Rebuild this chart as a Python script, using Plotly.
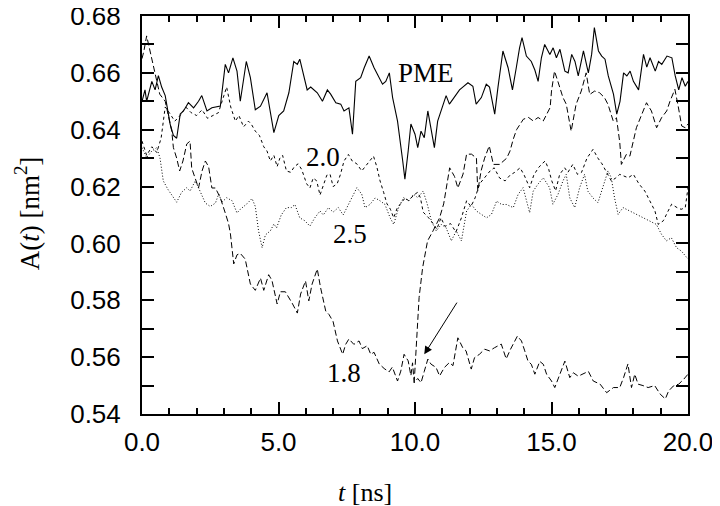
import plotly.graph_objects as go

# time axis [ns] and area per lipid [nm^2]
t_pme = [0.0, 0.11, 0.17, 0.36, 0.48, 0.6, 0.72, 0.85, 1.03, 1.15, 1.27, 1.4, 1.52, 1.7, 1.89, 2.07,
         2.19, 2.38, 2.56, 2.87, 3.05, 3.17, 3.33, 3.48, 3.6, 3.82, 3.97, 4.15, 4.34, 4.58, 4.83, 5.01,
         5.19, 5.38, 5.56, 5.69, 5.78, 5.93, 6.05, 6.18, 6.42, 6.61, 6.79, 6.91, 7.1, 7.28, 7.4, 7.58,
         7.71, 7.83, 8.01, 8.14, 8.32, 8.5, 8.63, 8.81, 8.93, 9.06, 9.18, 9.36, 9.55, 9.63, 9.75, 9.85,
         10.0, 10.1, 10.22, 10.34, 10.47, 10.59, 10.71, 10.83, 10.96, 11.14, 11.26, 11.44, 11.63, 11.75,
         11.94, 12.12, 12.24, 12.43, 12.61, 12.73, 12.92, 13.04, 13.22, 13.41, 13.57, 13.71, 13.83, 13.92,
         14.08, 14.26, 14.39, 14.51, 14.63, 14.75, 14.94, 15.06, 15.18, 15.31, 15.49, 15.61, 15.74, 15.86,
         15.98, 16.17, 16.35, 16.47, 16.57, 16.72, 16.84, 16.96, 17.08, 17.27, 17.39, 17.51, 17.64, 17.76,
         17.88, 18.0, 18.19, 18.37, 18.49, 18.61, 18.8, 18.92, 19.04, 19.23, 19.41, 19.53, 19.66, 19.78,
         19.9, 20.0]
a_pme = [0.650, 0.654, 0.650, 0.657, 0.654, 0.659, 0.655, 0.652, 0.642, 0.638, 0.637, 0.6455, 0.6466,
         0.6495, 0.6477, 0.650, 0.652, 0.6466, 0.6477, 0.6483, 0.663, 0.660, 0.6653, 0.6606, 0.650, 0.664,
         0.6583, 0.647, 0.6483, 0.653, 0.639, 0.645, 0.6466, 0.653, 0.664, 0.663, 0.6648, 0.6583, 0.654,
         0.655, 0.653, 0.650, 0.654, 0.6525, 0.6495, 0.649, 0.6466, 0.6477, 0.6384, 0.657, 0.6583, 0.6618,
         0.6659, 0.6618, 0.6595, 0.656, 0.657, 0.660, 0.6513, 0.643, 0.629, 0.6226, 0.6325, 0.642, 0.6384,
         0.6337, 0.6395, 0.6372, 0.6466, 0.6407, 0.6337, 0.643, 0.6466, 0.652, 0.649, 0.6513, 0.654, 0.655,
         0.6565, 0.6553, 0.649, 0.6513, 0.656, 0.655, 0.6455, 0.655, 0.6677, 0.6618, 0.654, 0.6618, 0.6688,
         0.6724, 0.6659, 0.664, 0.661, 0.657, 0.6653, 0.670, 0.6665, 0.6688, 0.6653, 0.6683, 0.6606, 0.660,
         0.6665, 0.664, 0.6589, 0.6677, 0.660, 0.6665, 0.6759, 0.6677, 0.6659, 0.6648, 0.6589, 0.6525,
         0.6455, 0.650, 0.660, 0.6589, 0.6606, 0.657, 0.654, 0.6665, 0.662, 0.6653, 0.6606, 0.664, 0.663,
         0.6659, 0.6653, 0.659, 0.654, 0.6583, 0.6553, 0.657]

t_20 = [0.0, 0.17, 0.36, 0.54, 0.7, 0.85, 1.0, 1.2, 1.4, 1.6, 1.8, 2.0, 2.2, 2.4, 2.6, 2.8, 3.0, 3.1, 3.25,
        3.42, 3.55, 3.72, 3.9, 4.0, 4.15, 4.3, 4.46, 4.58, 4.7, 4.83, 4.95, 5.05, 5.15, 5.29, 5.45, 5.58,
        5.72, 5.85, 6.03, 6.15, 6.27, 6.4, 6.52, 6.65, 6.77, 6.89, 7.0, 7.15, 7.27, 7.4, 7.56, 7.7, 7.87,
        8.05, 8.17, 8.35, 8.48, 8.6, 8.72, 8.85, 8.97, 9.1, 9.22, 9.35, 9.47, 9.64, 9.77, 9.95, 10.1, 10.2,
        10.3, 10.5, 10.66, 10.8, 10.95, 11.1, 11.3, 11.5, 11.7, 11.89, 12.05, 12.2, 12.37, 12.55, 12.75,
        12.9, 13.1, 13.3, 13.48, 13.65, 13.85, 14.0, 14.2, 14.35, 14.52, 14.65, 14.77, 14.9, 15.01, 15.15,
        15.3, 15.48, 15.6, 15.78, 15.95, 16.1, 16.3, 16.52, 16.7, 16.85, 17.0, 17.19, 17.35, 17.5, 17.81,
        18.0, 18.2, 18.42, 18.6, 18.79, 18.91, 19.1, 19.25, 19.4, 19.6, 19.75, 19.9, 20.0]
a_20 = [0.636, 0.631, 0.634, 0.632, 0.637, 0.648, 0.646, 0.643, 0.645, 0.648, 0.646, 0.645, 0.647, 0.644,
        0.645, 0.646, 0.652, 0.655, 0.648, 0.643, 0.645, 0.641, 0.643, 0.642, 0.6395, 0.638, 0.634, 0.6325,
        0.629, 0.631, 0.627, 0.630, 0.631, 0.6255, 0.625, 0.627, 0.628, 0.626, 0.621, 0.6195, 0.623, 0.622,
        0.617, 0.621, 0.624, 0.6243, 0.620, 0.621, 0.6243, 0.629, 0.6313, 0.629, 0.628, 0.6255, 0.627,
        0.629, 0.6307, 0.627, 0.622, 0.618, 0.614, 0.612, 0.609, 0.6125, 0.614, 0.616, 0.615, 0.617, 0.618,
        0.616, 0.611, 0.609, 0.607, 0.605, 0.609, 0.606, 0.607, 0.604, 0.609, 0.615, 0.613, 0.616, 0.621,
        0.623, 0.6255, 0.6266, 0.623, 0.622, 0.624, 0.625, 0.6266, 0.624, 0.6196, 0.624, 0.6266, 0.628,
        0.629, 0.626, 0.622, 0.6185, 0.6243, 0.6266, 0.625, 0.6278, 0.6243, 0.625, 0.630, 0.6331, 0.630,
        0.628, 0.6255, 0.622, 0.623, 0.6243, 0.6231, 0.6243, 0.621, 0.6184, 0.615, 0.6114, 0.6067, 0.608,
        0.611, 0.6138, 0.6126, 0.612, 0.6126, 0.6196]

t_25 = [0.0, 0.17, 0.36, 0.54, 0.66, 0.78, 0.95, 1.15, 1.27, 1.45, 1.64, 1.76, 1.95, 2.07, 2.2, 2.32, 2.5,
        2.69, 2.81, 2.93, 3.1, 3.3, 3.48, 3.6, 3.85, 4.03, 4.15, 4.27, 4.4, 4.52, 4.7, 4.83, 4.93, 5.1,
        5.29, 5.47, 5.6, 5.78, 5.96, 6.15, 6.33, 6.52, 6.64, 6.83, 7.0, 7.19, 7.37, 7.56, 7.75, 7.87, 8.05,
        8.17, 8.35, 8.54, 8.72, 8.9, 9.09, 9.22, 9.4, 9.58, 9.77, 9.95, 10.1, 10.3, 10.45, 10.6, 10.78,
        10.96, 11.14, 11.33, 11.51, 11.7, 11.89, 12.07, 12.25, 12.44, 12.62, 12.8, 12.99, 13.17, 13.35,
        13.6, 13.78, 13.96, 14.2, 14.33, 14.5, 14.7, 14.93, 15.05, 15.24, 15.42, 15.54, 15.67, 15.85,
        16.03, 16.21, 16.33, 16.52, 16.7, 16.88, 17.07, 17.19, 17.31, 17.44, 17.62, 17.87, 18.11, 18.35,
        18.6, 18.84, 19.03, 19.21, 19.39, 19.58, 19.76, 19.95, 20.0]
a_25 = [0.6337, 0.6302, 0.6325, 0.6337, 0.630, 0.622, 0.619, 0.616, 0.6145, 0.618, 0.6196, 0.6184, 0.622,
        0.6196, 0.617, 0.6142, 0.613, 0.6142, 0.6174, 0.6145, 0.6161, 0.615, 0.6107, 0.612, 0.614, 0.6158,
        0.613, 0.6044, 0.5985, 0.603, 0.6044, 0.6068, 0.6055, 0.610, 0.6126, 0.6126, 0.6137, 0.609, 0.608,
        0.6061, 0.609, 0.6114, 0.610, 0.6126, 0.611, 0.6126, 0.610, 0.6137, 0.6173, 0.6196, 0.6173, 0.6126,
        0.6137, 0.616, 0.615, 0.6137, 0.609, 0.6067, 0.6126, 0.6161, 0.615, 0.6173, 0.6161, 0.6184, 0.6138,
        0.6079, 0.6044, 0.6067, 0.6055, 0.6009, 0.6044, 0.6009, 0.6114, 0.6137, 0.6114, 0.6102, 0.609,
        0.6102, 0.6149, 0.6137, 0.6137, 0.6126, 0.6173, 0.6196, 0.6108, 0.6184, 0.6208, 0.6231, 0.6196,
        0.6138, 0.6173, 0.622, 0.6243, 0.616, 0.6126, 0.6196, 0.6243, 0.6184, 0.616, 0.6143, 0.6196,
        0.6255, 0.6231, 0.616, 0.6102, 0.6126, 0.6114, 0.6102, 0.609, 0.6079, 0.6067, 0.6032, 0.6009,
        0.602, 0.5985, 0.5973, 0.595, 0.5945]

t_18 = [0.0, 0.07, 0.17, 0.3, 0.48, 0.65, 0.85, 0.97, 1.09, 1.15, 1.27, 1.38, 1.5, 1.64, 1.76, 1.82, 1.95,
        2.07, 2.2, 2.32, 2.44, 2.56, 2.69, 2.87, 3.05, 3.17, 3.24, 3.3, 3.36, 3.48, 3.6, 3.78, 3.97, 4.15,
        4.34, 4.46, 4.64, 4.76, 4.95, 5.07, 5.25, 5.5, 5.69, 5.81, 5.99, 6.11, 6.23, 6.42, 6.54, 6.73, 6.85,
        7.0, 7.16, 7.35, 7.46, 7.58, 7.76, 7.95, 8.07, 8.25, 8.38, 8.5, 8.69, 8.87, 9.05, 9.17, 9.36, 9.48,
        9.6, 9.75, 9.85, 9.91, 9.97, 10.1, 10.22, 10.34, 10.47, 10.59, 10.77, 10.9, 11.08, 11.26, 11.39,
        11.57, 11.75, 11.87, 12.06, 12.18, 12.36, 12.55, 12.73, 12.91, 13.16, 13.34, 13.5, 13.75, 13.9,
        14.02, 14.14, 14.26, 14.39, 14.57, 14.7, 14.82, 15.0, 15.12, 15.3, 15.49, 15.67, 15.8, 15.98,
        16.23, 16.35, 16.53, 16.78, 17.02, 17.27, 17.5, 17.64, 17.8, 17.93, 18.05, 18.17, 18.35, 18.54,
        18.78, 18.98, 19.17, 19.29, 19.47, 19.66, 19.84, 20.0]
a_18 = [0.665, 0.6677, 0.673, 0.6677, 0.6596, 0.6525, 0.650, 0.645, 0.6395, 0.6337, 0.630, 0.6255, 0.629,
        0.635, 0.636, 0.6265, 0.623, 0.6195, 0.6255, 0.629, 0.627, 0.6195, 0.6195, 0.616, 0.6107, 0.607,
        0.6033, 0.5973, 0.5928, 0.596, 0.5965, 0.5945, 0.5857, 0.5835, 0.5878, 0.5835, 0.589, 0.587,
        0.5787, 0.583, 0.583, 0.579, 0.5755, 0.5822, 0.5868, 0.5798, 0.5857, 0.591, 0.5845, 0.5762, 0.575,
        0.5725, 0.5657, 0.561, 0.5645, 0.5664, 0.5645, 0.5657, 0.563, 0.564, 0.561, 0.5617, 0.5576, 0.556,
        0.5548, 0.5565, 0.5516, 0.5551, 0.561, 0.5587, 0.5535, 0.558, 0.551, 0.5525, 0.551, 0.555, 0.5593,
        0.5575, 0.5564, 0.5534, 0.5564, 0.5581, 0.557, 0.5668, 0.5633, 0.5622, 0.5558, 0.5598, 0.561,
        0.5628, 0.5622, 0.5633, 0.5646, 0.5594, 0.5628, 0.5674, 0.5657, 0.5622, 0.5586, 0.5575, 0.554,
        0.5585, 0.5575, 0.554, 0.5516, 0.5493, 0.554, 0.5586, 0.5528, 0.5545, 0.5533, 0.5545, 0.555,
        0.5516, 0.5505, 0.5475, 0.5493, 0.5493, 0.5528, 0.5576, 0.5493, 0.554, 0.5505, 0.55, 0.5493, 0.55,
        0.547, 0.5453, 0.5481, 0.5499, 0.5505, 0.5522, 0.554]

# 1.8 nm run switched over at 10 ns (arrow)
t_sw = [9.97, 10.15, 10.28, 10.46, 10.66, 10.9, 11.05, 11.27, 11.45, 11.57, 11.76, 11.89, 12.07, 12.25,
        12.3, 12.42, 12.55, 12.72, 12.87, 13.1, 13.36, 13.48, 13.6, 13.72, 13.97, 14.16, 14.33, 14.51,
        14.7, 14.82, 14.95, 15.0, 15.11, 15.23, 15.42, 15.54, 15.72, 15.9, 16.09, 16.27, 16.4, 16.58,
        16.76, 16.94, 17.07, 17.26, 17.38, 17.5, 17.56, 17.74, 17.87, 18.11, 18.29, 18.48, 18.66, 18.85,
        19.03, 19.22, 19.34, 19.52, 19.64, 19.77, 19.9, 20.0]
a_sw = [0.551, 0.581, 0.5915, 0.6009, 0.6044, 0.609, 0.6139, 0.6266, 0.6235, 0.6195, 0.6244, 0.6314,
        0.6314, 0.630, 0.6184, 0.6255, 0.630, 0.6343, 0.6278, 0.6278, 0.630, 0.6325, 0.6367, 0.640, 0.6437,
        0.6443, 0.6431, 0.6443, 0.6431, 0.6455, 0.6478, 0.6536, 0.6606, 0.6571, 0.6513, 0.649, 0.6395,
        0.6489, 0.6536, 0.660, 0.6524, 0.6536, 0.653, 0.6513, 0.6489, 0.6431, 0.6442, 0.6356, 0.6278,
        0.6313, 0.6307, 0.6407, 0.6453, 0.6495, 0.6466, 0.6407, 0.6442, 0.6466, 0.650, 0.6542, 0.6483,
        0.6413, 0.6407, 0.642]

labels = ["PME", "2.0", "2.5", "1.8"]
label_t = [10.4, 6.64, 7.62, 7.4]
label_a = [0.660, 0.6305, 0.6032, 0.5545]

sans = "Liberation Sans, Arial, sans-serif"
serif = "Liberation Serif, Times New Roman, serif"

fig = go.Figure()
fig.add_trace(go.Scatter(x=t_pme, y=a_pme, mode="lines", line=dict(color="black", width=1.1)))
fig.add_trace(go.Scatter(x=t_20, y=a_20, mode="lines", line=dict(color="black", width=1, dash="3px,3px")))
fig.add_trace(go.Scatter(x=t_25, y=a_25, mode="lines", line=dict(color="black", width=1, dash="1px,2px")))
fig.add_trace(go.Scatter(x=t_18, y=a_18, mode="lines", line=dict(color="black", width=1, dash="6px,3px")))
fig.add_trace(go.Scatter(x=t_sw, y=a_sw, mode="lines", line=dict(color="black", width=1, dash="6px,3px")))

for txt, tx, ay in zip(labels, label_t, label_a):
    fig.add_annotation(x=tx, y=ay, text=txt, showarrow=False, xanchor="center", yanchor="middle",
                       font=dict(family=serif, size=27, color="black"))

# arrow pointing at the switch time
fig.add_annotation(x=10.34, y=0.561, ax=11.57, ay=0.5797, xref="x", yref="y", axref="x", ayref="y",
                   text="", showarrow=True, arrowhead=2, arrowsize=1.6, arrowwidth=1, arrowcolor="black")

# axis titles
fig.add_annotation(xref="paper", yref="paper", x=0.408, y=-0.196, text="<i>t</i> [ns]", showarrow=False,
                   xanchor="center", yanchor="middle", font=dict(family=serif, size=26, color="black"))
fig.add_annotation(xref="paper", yref="paper", x=-0.21, y=0.505, text="A(<i>t</i>) [nm<sup>2</sup>]",
                   showarrow=False, textangle=-90, xanchor="center", yanchor="middle",
                   font=dict(family=serif, size=27, color="black"))

# page body has an 8px margin, so the figure is 8px smaller than the window
fig.update_layout(
    width=712, height=498,
    margin=dict(l=134, r=32, t=8, b=92),
    paper_bgcolor="white", plot_bgcolor="white",
    showlegend=False,
)
fig.update_xaxes(range=[0, 20], tickvals=[0, 5, 10, 15, 20], ticktext=["0.0", "5.0", "10.0", "15.0", "20.0"],
                 ticks="inside", ticklen=12, tickwidth=2, tickcolor="black",
                 minor=dict(dtick=1, ticks="inside", ticklen=6, tickwidth=2, tickcolor="black"),
                 showline=True, linecolor="black", linewidth=2, mirror="allticks", showgrid=False, zeroline=False,
                 tickfont=dict(family=sans, size=26, color="black"), ticklabelstandoff=4,
                 ticklabeloverflow="allow", automargin=False)
fig.update_yaxes(range=[0.54, 0.68], tickvals=[0.54, 0.56, 0.58, 0.60, 0.62, 0.64, 0.66, 0.68],
                 ticktext=["0.54", "0.56", "0.58", "0.60", "0.62", "0.64", "0.66", "0.68"],
                 ticks="inside", ticklen=12, tickwidth=2, tickcolor="black",
                 minor=dict(dtick=0.01, ticks="inside", ticklen=12, tickwidth=2, tickcolor="black"),
                 showline=True, linecolor="black", linewidth=2, mirror="allticks", showgrid=False, zeroline=False,
                 tickfont=dict(family=sans, size=26, color="black"), ticklabelstandoff=14,
                 ticklabeloverflow="allow", automargin=False)

fig.write_html("out.html")
